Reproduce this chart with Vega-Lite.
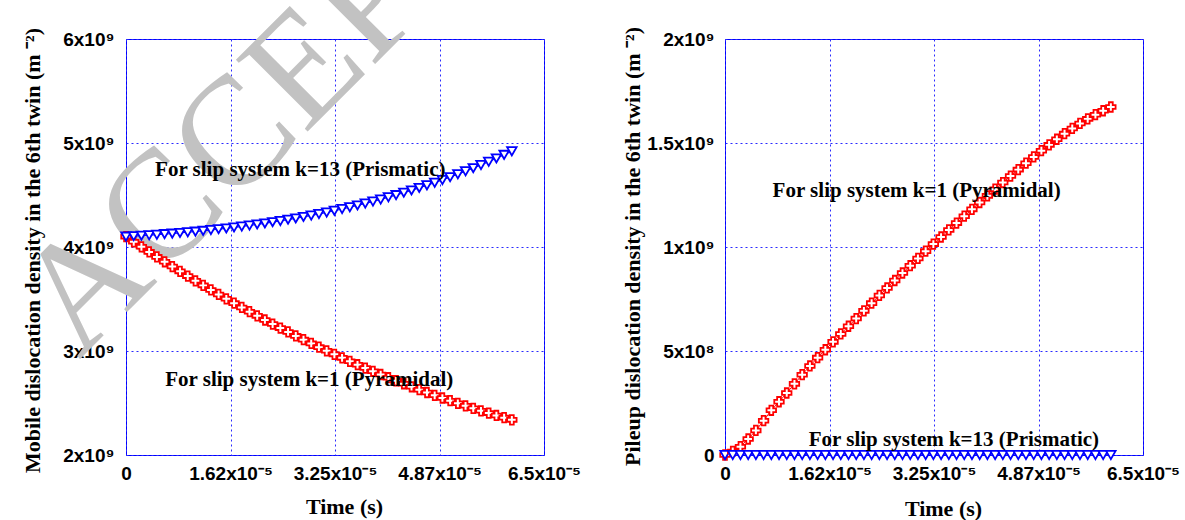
{
  "$schema": "https://vega.github.io/schema/vega-lite/v6.json",
  "background": "white",
  "padding": {"left": -10, "top": -82, "right": 0, "bottom": 0},
  "bounds": "flush",
  "spacing": 181,
  "datasets": {
    "series": [
      {"t": 0, "m13": 4.100e9, "m1": 4.100e9, "p1": 0, "p13": 0},
      {"t": 1.2e-6, "m13": 4.104e9, "m1": 4.050e9, "p1": 0.017e9, "p13": 0},
      {"t": 2.4e-6, "m13": 4.109e9, "m1": 4.002e9, "p1": 0.040e9, "p13": 0},
      {"t": 3.6e-6, "m13": 4.113e9, "m1": 3.953e9, "p1": 0.077e9, "p13": 0},
      {"t": 4.8e-6, "m13": 4.118e9, "m1": 3.905e9, "p1": 0.118e9, "p13": 0},
      {"t": 6.0e-6, "m13": 4.124e9, "m1": 3.858e9, "p1": 0.165e9, "p13": 0},
      {"t": 7.2e-6, "m13": 4.129e9, "m1": 3.812e9, "p1": 0.215e9, "p13": 0},
      {"t": 8.4e-6, "m13": 4.135e9, "m1": 3.766e9, "p1": 0.256e9, "p13": 0},
      {"t": 9.6e-6, "m13": 4.142e9, "m1": 3.720e9, "p1": 0.298e9, "p13": 0},
      {"t": 1.08e-5, "m13": 4.148e9, "m1": 3.675e9, "p1": 0.342e9, "p13": 0},
      {"t": 1.20e-5, "m13": 4.155e9, "m1": 3.631e9, "p1": 0.386e9, "p13": 0},
      {"t": 1.32e-5, "m13": 4.163e9, "m1": 3.587e9, "p1": 0.428e9, "p13": 0},
      {"t": 1.44e-5, "m13": 4.171e9, "m1": 3.544e9, "p1": 0.468e9, "p13": 0},
      {"t": 1.56e-5, "m13": 4.179e9, "m1": 3.502e9, "p1": 0.506e9, "p13": 0},
      {"t": 1.68e-5, "m13": 4.188e9, "m1": 3.460e9, "p1": 0.544e9, "p13": 0},
      {"t": 1.80e-5, "m13": 4.197e9, "m1": 3.419e9, "p1": 0.582e9, "p13": 0},
      {"t": 1.92e-5, "m13": 4.207e9, "m1": 3.378e9, "p1": 0.619e9, "p13": 0},
      {"t": 2.04e-5, "m13": 4.217e9, "m1": 3.338e9, "p1": 0.656e9, "p13": 0},
      {"t": 2.16e-5, "m13": 4.227e9, "m1": 3.298e9, "p1": 0.693e9, "p13": 0},
      {"t": 2.28e-5, "m13": 4.239e9, "m1": 3.259e9, "p1": 0.730e9, "p13": 0},
      {"t": 2.40e-5, "m13": 4.250e9, "m1": 3.220e9, "p1": 0.767e9, "p13": 0},
      {"t": 2.52e-5, "m13": 4.263e9, "m1": 3.183e9, "p1": 0.803e9, "p13": 0},
      {"t": 2.64e-5, "m13": 4.275e9, "m1": 3.145e9, "p1": 0.839e9, "p13": 0},
      {"t": 2.76e-5, "m13": 4.289e9, "m1": 3.109e9, "p1": 0.875e9, "p13": 0},
      {"t": 2.88e-5, "m13": 4.303e9, "m1": 3.073e9, "p1": 0.910e9, "p13": 0},
      {"t": 3.00e-5, "m13": 4.317e9, "m1": 3.037e9, "p1": 0.945e9, "p13": 0},
      {"t": 3.12e-5, "m13": 4.332e9, "m1": 3.002e9, "p1": 0.980e9, "p13": 0},
      {"t": 3.24e-5, "m13": 4.348e9, "m1": 2.968e9, "p1": 1.014e9, "p13": 0},
      {"t": 3.36e-5, "m13": 4.365e9, "m1": 2.934e9, "p1": 1.048e9, "p13": 0},
      {"t": 3.48e-5, "m13": 4.382e9, "m1": 2.901e9, "p1": 1.082e9, "p13": 0},
      {"t": 3.60e-5, "m13": 4.400e9, "m1": 2.868e9, "p1": 1.115e9, "p13": 0},
      {"t": 3.72e-5, "m13": 4.418e9, "m1": 2.836e9, "p1": 1.148e9, "p13": 0},
      {"t": 3.84e-5, "m13": 4.437e9, "m1": 2.805e9, "p1": 1.181e9, "p13": 0},
      {"t": 3.96e-5, "m13": 4.457e9, "m1": 2.774e9, "p1": 1.214e9, "p13": 0},
      {"t": 4.08e-5, "m13": 4.478e9, "m1": 2.743e9, "p1": 1.246e9, "p13": 0},
      {"t": 4.20e-5, "m13": 4.499e9, "m1": 2.714e9, "p1": 1.278e9, "p13": 0},
      {"t": 4.32e-5, "m13": 4.522e9, "m1": 2.685e9, "p1": 1.310e9, "p13": 0},
      {"t": 4.44e-5, "m13": 4.544e9, "m1": 2.656e9, "p1": 1.341e9, "p13": 0},
      {"t": 4.56e-5, "m13": 4.568e9, "m1": 2.628e9, "p1": 1.372e9, "p13": 0},
      {"t": 4.68e-5, "m13": 4.593e9, "m1": 2.601e9, "p1": 1.403e9, "p13": 0},
      {"t": 4.80e-5, "m13": 4.618e9, "m1": 2.574e9, "p1": 1.433e9, "p13": 0},
      {"t": 4.92e-5, "m13": 4.644e9, "m1": 2.548e9, "p1": 1.463e9, "p13": 0},
      {"t": 5.04e-5, "m13": 4.671e9, "m1": 2.522e9, "p1": 1.491e9, "p13": 0},
      {"t": 5.16e-5, "m13": 4.699e9, "m1": 2.497e9, "p1": 1.518e9, "p13": 0},
      {"t": 5.28e-5, "m13": 4.728e9, "m1": 2.473e9, "p1": 1.545e9, "p13": 0},
      {"t": 5.40e-5, "m13": 4.758e9, "m1": 2.449e9, "p1": 1.570e9, "p13": 0},
      {"t": 5.52e-5, "m13": 4.788e9, "m1": 2.425e9, "p1": 1.594e9, "p13": 0},
      {"t": 5.64e-5, "m13": 4.820e9, "m1": 2.403e9, "p1": 1.616e9, "p13": 0},
      {"t": 5.76e-5, "m13": 4.852e9, "m1": 2.380e9, "p1": 1.636e9, "p13": 0},
      {"t": 5.88e-5, "m13": 4.886e9, "m1": 2.359e9, "p1": 1.655e9, "p13": 0},
      {"t": 6.00e-5, "m13": 4.920e9, "m1": 2.338e9, "p1": 1.673e9, "p13": 0}
    ],
    "notesLeft": [
      {"t": 2.71e-5, "v": 4.74e9, "label": "For slip system k=13 (Prismatic)"},
      {"t": 2.85e-5, "v": 2.72e9, "label": "For slip system k=1 (Pyramidal)"}
    ],
    "notesRight": [
      {"t": 2.98e-5, "v": 1.267e9, "label": "For slip system k=1 (Pyramidal)"},
      {"t": 3.56e-5, "v": 0.07e9, "label": "For slip system k=13 (Prismatic)"}
    ],
    "watermark": [
      {"t": -7.3e-6, "v": 2.913e9, "label": "ACCEP"}
    ]
  },
  "config": {
    "view": {"stroke": "#0000ff", "strokeWidth": 1},
    "axis": {
      "grid": true, "gridColor": "#2a2aff", "gridDash": [2, 3], "gridWidth": 1, "gridOpacity": 1,
      "domain": false, "ticks": false,
      "labelFont": "Liberation Sans", "labelFontWeight": "bold", "labelFontSize": 19, "labelColor": "#000000",
      "titleFont": "Liberation Serif", "titleFontWeight": "bold", "titleFontSize": 22, "titleColor": "#000000",
      "labelFlush": false, "labelOverlap": false, "labelBound": false
    }
  },
  "resolve": {"scale": {"stroke": "independent", "shape": "independent"}},
  "hconcat": [
    {
      "width": 418,
      "height": 416,
      "layer": [
        {
          "data": {"name": "watermark"},
          "mark": {"type": "text", "font": "Liberation Serif", "fontSize": 155, "color": "#c2c2c2", "align": "left", "baseline": "alphabetic", "angle": -45},
          "encoding": {
            "x": {"field": "t", "type": "quantitative"},
            "y": {"field": "v", "type": "quantitative"},
            "text": {"field": "label"}
          }
        },
        {
          "data": {"name": "series"},
          "transform": [{"fold": ["m1", "m13"], "as": ["s", "v"]}],
          "mark": {"type": "line", "strokeWidth": 1},
          "encoding": {
            "x": {"field": "t", "type": "quantitative",
              "scale": {"domain": [0, 6.5e-5], "nice": false, "zero": false},
              "axis": {"values": [0, 1.625e-5, 3.25e-5, 4.875e-5, 6.5e-5],
                "labelExpr": "['0','1.62x10⁻⁵','3.25x10⁻⁵','4.87x10⁻⁵','6.5x10⁻⁵'][round(datum.value/1.625e-5)]",
                "labelPadding": 24, "labelBaseline": "alphabetic",
                "title": "Time (s)", "titleX": 218, "titleY": 58, "titleBaseline": "alphabetic", "titleAlign": "center"}},
            "y": {"field": "v", "type": "quantitative",
              "scale": {"domain": [2e9, 6e9], "nice": false, "zero": false},
              "axis": {"values": [2e9, 3e9, 4e9, 5e9, 6e9],
                "labelExpr": "(datum.value/1e9) + 'x10⁹'",
                "labelPadding": 12,
                "title": "Mobile dislocation density in the 6th twin (m  ⁻²)",
                "titleX": -87, "titleY": 211, "titleAngle": 270, "titleBaseline": "alphabetic", "titleAlign": "center"}},
            "stroke": {"field": "s", "type": "nominal", "scale": {"domain": ["m1", "m13"], "range": ["#ff0000", "#0000ff"]}, "legend": null}
          }
        },
        {
          "data": {"name": "series"},
          "transform": [{"fold": ["m1", "m13"], "as": ["s", "v"]}],
          "mark": {"type": "point", "filled": true, "fill": "white", "fillOpacity": 1, "opacity": 1, "strokeWidth": 1.8, "size": 90},
          "encoding": {
            "x": {"field": "t", "type": "quantitative"},
            "y": {"field": "v", "type": "quantitative"},
            "stroke": {"field": "s", "type": "nominal", "scale": {"domain": ["m1", "m13"], "range": ["#ff0000", "#0000ff"]}, "legend": null},
            "shape": {"field": "s", "type": "nominal", "scale": {"domain": ["m1", "m13"], "range": ["cross", "triangle-down"]}, "legend": null}
          }
        },
        {
          "data": {"name": "notesLeft"},
          "mark": {"type": "text", "font": "Liberation Serif", "fontWeight": "bold", "fontSize": 21, "color": "#000000", "align": "center", "baseline": "middle"},
          "encoding": {
            "x": {"field": "t", "type": "quantitative"},
            "y": {"field": "v", "type": "quantitative"},
            "text": {"field": "label"}
          }
        }
      ]
    },
    {
      "width": 418,
      "height": 416,
      "layer": [
        {
          "data": {"name": "series"},
          "transform": [{"fold": ["p1", "p13"], "as": ["s", "v"]}],
          "mark": {"type": "line", "strokeWidth": 1},
          "encoding": {
            "x": {"field": "t", "type": "quantitative",
              "scale": {"domain": [0, 6.5e-5], "nice": false, "zero": false},
              "axis": {"values": [0, 1.625e-5, 3.25e-5, 4.875e-5, 6.5e-5],
                "labelExpr": "['0','1.62x10⁻⁵','3.25x10⁻⁵','4.87x10⁻⁵','6.5x10⁻⁵'][round(datum.value/1.625e-5)]",
                "labelPadding": 24, "labelBaseline": "alphabetic",
                "title": "Time (s)", "titleX": 218, "titleY": 60, "titleBaseline": "alphabetic", "titleAlign": "center"}},
            "y": {"field": "v", "type": "quantitative",
              "scale": {"domain": [0, 2e9], "nice": false, "zero": false},
              "axis": {"values": [0, 5e8, 1e9, 1.5e9, 2e9],
                "labelExpr": "['0','5x10⁸','1x10⁹','1.5x10⁹','2x10⁹'][round(datum.value/5e8)]",
                "labelPadding": 11,
                "title": "Pileup dislocation density in the 6th twin (m  ⁻²)",
                "titleX": -86, "titleY": 207, "titleAngle": 270, "titleBaseline": "alphabetic", "titleAlign": "center"}},
            "stroke": {"field": "s", "type": "nominal", "scale": {"domain": ["p1", "p13"], "range": ["#ff0000", "#0000ff"]}, "legend": null}
          }
        },
        {
          "data": {"name": "series"},
          "transform": [{"fold": ["p1", "p13"], "as": ["s", "v"]}],
          "mark": {"type": "point", "filled": true, "fill": "white", "fillOpacity": 1, "opacity": 1, "strokeWidth": 1.8, "size": 90},
          "encoding": {
            "x": {"field": "t", "type": "quantitative"},
            "y": {"field": "v", "type": "quantitative"},
            "stroke": {"field": "s", "type": "nominal", "scale": {"domain": ["p1", "p13"], "range": ["#ff0000", "#0000ff"]}, "legend": null},
            "shape": {"field": "s", "type": "nominal", "scale": {"domain": ["p1", "p13"], "range": ["cross", "triangle-down"]}, "legend": null}
          }
        },
        {
          "data": {"name": "notesRight"},
          "mark": {"type": "text", "font": "Liberation Serif", "fontWeight": "bold", "fontSize": 21, "color": "#000000", "align": "center", "baseline": "middle"},
          "encoding": {
            "x": {"field": "t", "type": "quantitative"},
            "y": {"field": "v", "type": "quantitative"},
            "text": {"field": "label"}
          }
        }
      ]
    }
  ]
}
